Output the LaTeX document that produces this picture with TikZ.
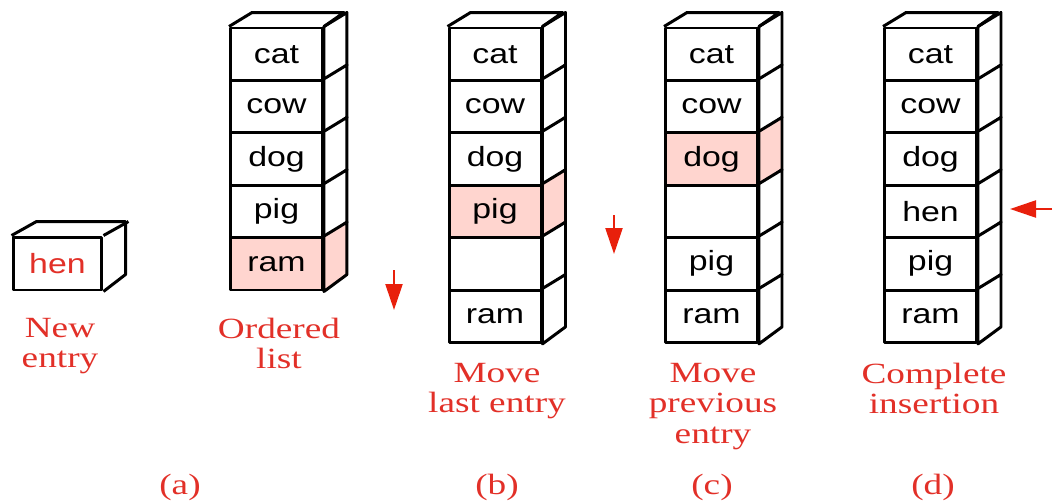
\documentclass[tikz,border=0pt]{standalone}
\usepackage{fontspec}
\newfontfamily\fontcella[FakeStretch=1.22]{Liberation Sans}
\newfontfamily\fontetichetta[FakeStretch=1.27]{Liberation Serif}
\usetikzlibrary{
    arrows.meta,        % frecce moderne
    calc,               % calcoli con coordinate
    positioning         % posizionamento dei nodi
}
\definecolor{rosso}{RGB}{226,48,40}
\definecolor{rossofreccia}{RGB}{232,32,12}
\definecolor{rosa}{RGB}{255,213,207}

\begin{document}
\begin{tikzpicture}[x=0.02cm, y=-0.02cm, line join=round,
    cella/.style={draw, line width=1.7pt, minimum width=1.84cm, minimum height=1.048cm,
        inner sep=0pt, font=\fontcella\fontsize{15.8}{18}\selectfont},
    faccia/.style={draw, line width=1.7pt},
    etichetta/.style={text=rosso, align=center, anchor=north, inner sep=0pt,
        font=\fontetichetta\fontsize{16.7}{17.2}\selectfont},
    freccia/.style={draw=rossofreccia, line width=1.3pt, -{Triangle[length=0.52cm, width=0.34cm]}}]

        \useasboundingbox (0,0) rectangle (1053,500);

        % (a) nuovo elemento
        \node[cella, text=rosso, minimum width=1.78cm, minimum height=1.06cm] (hen) at (57.5,263.5) {hen};
        \draw[faccia] (hen.north west) -- ++(25,-14) -- ++(89,0) -- ++(0,53) -- (hen.south east);
        \draw[faccia] (hen.north east) -- ++(25,-14);

        % (a) lista ordinata
        \foreach \nome/\sfondo [count=\i] in {cat/white, cow/white, dog/white, pig/white, ram/rosa} {
            \node[cella, fill=\sfondo] (a\i) at (276.5,1.8+52.4*\i) {\nome};
            \draw[faccia, fill=\sfondo] (a\i.north east) -- ++(23,-14) -- ++(0,52.4) -- (a\i.south east) -- cycle;
        }
        \draw[faccia] (a1.north west) -- ++(23,-14) -- ++(92,0) -- (a1.north east);

        % (b) sposta l'ultimo elemento
        \foreach \nome/\sfondo [count=\i] in {cat/white, cow/white, dog/white, pig/rosa, {}/white, ram/white} {
            \node[cella, fill=\sfondo] (b\i) at (495,1.8+52.4*\i) {\nome};
            \draw[faccia, fill=\sfondo] (b\i.north east) -- ++(23,-14) -- ++(0,52.4) -- (b\i.south east) -- cycle;
        }
        \draw[faccia] (b1.north west) -- ++(23,-14) -- ++(92,0) -- (b1.north east);

        % (c) sposta l'elemento precedente
        \foreach \nome/\sfondo [count=\i] in {cat/white, cow/white, dog/rosa, {}/white, pig/white, ram/white} {
            \node[cella, fill=\sfondo] (c\i) at (711.5,1.8+52.4*\i) {\nome};
            \draw[faccia, fill=\sfondo] (c\i.north east) -- ++(23,-14) -- ++(0,52.4) -- (c\i.south east) -- cycle;
        }
        \draw[faccia] (c1.north west) -- ++(23,-14) -- ++(92,0) -- (c1.north east);

        % (d) inserimento completato
        \foreach \nome/\sfondo [count=\i] in {cat/white, cow/white, dog/white, hen/white, pig/white, ram/white} {
            \node[cella, fill=\sfondo] (d\i) at (930.5,1.8+52.4*\i) {\nome};
            \draw[faccia, fill=\sfondo] (d\i.north east) -- ++(23,-14) -- ++(0,52.4) -- (d\i.south east) -- cycle;
        }
        \draw[faccia] (d1.north west) -- ++(23,-14) -- ++(92,0) -- (d1.north east);

        % frecce
        \coordinate (f1a) at (394,270);
        \coordinate (f1b) at (394,310);
        \coordinate (f2a) at (614,215);
        \coordinate (f2b) at (614,254);
        \coordinate (f3a) at (1052,209);
        \coordinate (f3b) at (1010,209);
        \draw[freccia] (f1a) -- (f1b);
        \draw[freccia] (f2a) -- (f2b);
        \draw[freccia] (f3a) -- (f3b);

        % didascalie
        \node[etichetta] (lnew) at (60,318) {New\\entry};
        \node[etichetta] (lord) at (279,318) {Ordered\\list};
        \node[etichetta] (lb) at (497,363) {Move\\last entry};
        \node[etichetta] (lc) at (713,363) {Move\\previous\\entry};
        \node[etichetta] (ld) at (934,363) {Complete\\insertion};

        \node[etichetta, anchor=base] (sa) at (180,494) {(a)};
        \node[etichetta, anchor=base] (sb) at (497,494) {(b)};
        \node[etichetta, anchor=base] (sc) at (712,494) {(c)};
        \node[etichetta, anchor=base] (sd) at (933,494) {(d)};

    \end{tikzpicture}
\end{document}
